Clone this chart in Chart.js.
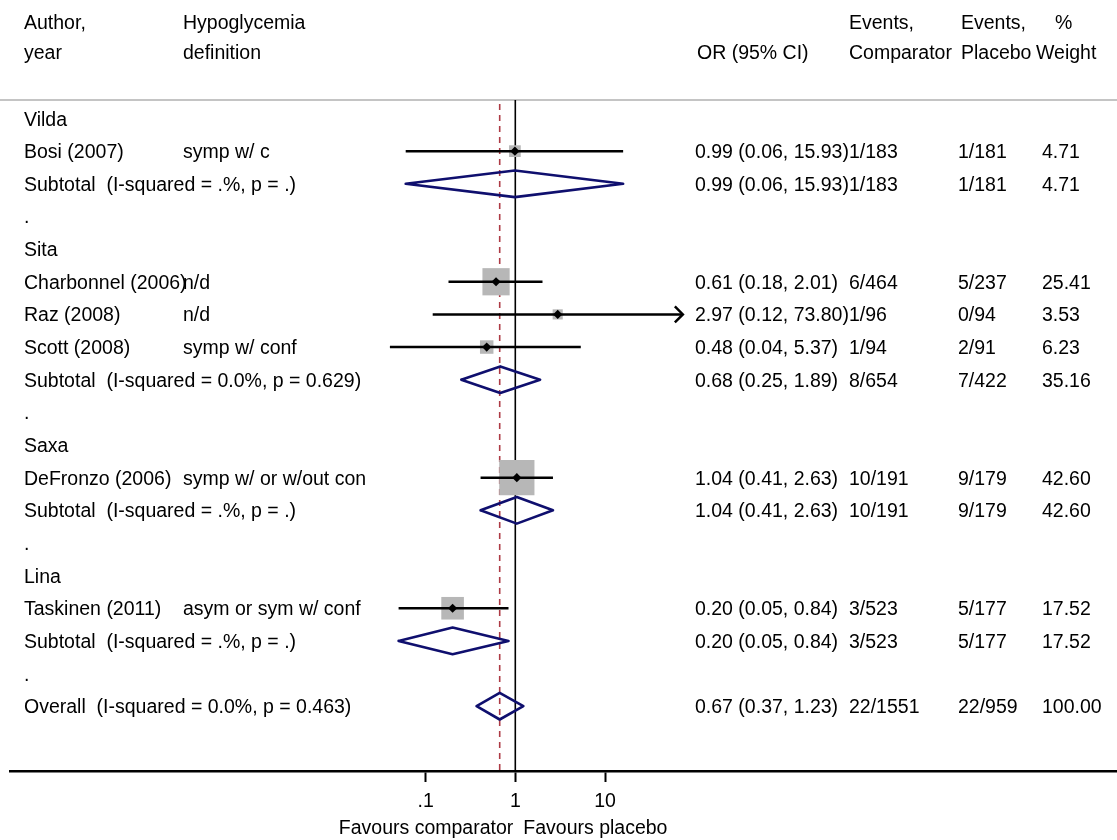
<!DOCTYPE html>
<html>
<head>
<meta charset="utf-8">
<script src="https://cdn.jsdelivr.net/npm/chart.js@4.4.1/dist/chart.umd.min.js"></script>
<style>
  body { margin: 0; background: #fff; }
  #wrap { width: 1117px; height: 840px; }
</style>
</head>
<body>
<div id="wrap"><canvas id="forest"></canvas></div>
<script>
// Table rows, top to bottom
const authorLabels = [
  'Vilda', 'Bosi (2007)', 'Subtotal  (I-squared = .%, p = .)', '.',
  'Sita', 'Charbonnel (2006)', 'Raz (2008)', 'Scott (2008)', 'Subtotal  (I-squared = 0.0%, p = 0.629)', '.',
  'Saxa', 'DeFronzo (2006)', 'Subtotal  (I-squared = .%, p = .)', '.',
  'Lina', 'Taskinen (2011)', 'Subtotal  (I-squared = .%, p = .)', '.',
  'Overall  (I-squared = 0.0%, p = 0.463)',
]
const definitionLabels = [
  '', 'symp w/ c', '', '',
  '', 'n/d', 'n/d', 'symp w/ conf', '', '',
  '', 'symp w/ or w/out con', '', '',
  '', 'asym or sym w/ conf', '', '',
  '',
]
const comparatorEvents = [
  '', '1/183', '1/183', '',
  '', '6/464', '1/96', '1/94', '8/654', '',
  '', '10/191', '10/191', '',
  '', '3/523', '3/523', '',
  '22/1551',
]
const placeboEvents = [
  '', '1/181', '1/181', '',
  '', '5/237', '0/94', '2/91', '7/422', '',
  '', '9/179', '9/179', '',
  '', '5/177', '5/177', '',
  '22/959',
]
const weightLabels = [
  '', '4.71', '4.71', '',
  '', '25.41', '3.53', '6.23', '35.16', '',
  '', '42.60', '42.60', '',
  '', '17.52', '17.52', '',
  '100.00',
]

// Individual studies
const studyRows = [1, 5, 6, 7, 11, 15]
const studyOR = [0.99, 0.61, 2.97, 0.48, 1.04, 0.20]
const studyLo = [0.06, 0.18, 0.12, 0.04, 0.41, 0.05]
const studyHi = [15.93, 2.01, 73.80, 5.37, 2.63, 0.84]
const studyWeight = [4.71, 25.41, 3.53, 6.23, 42.60, 17.52]
const studyArrow = [false, false, true, false, false, false]

// Pooled estimates (subtotals + overall)
const pooledRows = [2, 8, 12, 16, 18]
const pooledOR = [0.99, 0.68, 1.04, 0.20, 0.67]
const pooledLo = [0.06, 0.25, 0.41, 0.05, 0.37]
const pooledHi = [15.93, 1.89, 2.63, 0.84, 1.23]
const overallOR = 0.67

const tickValues = [0.1, 1, 10]
const tickLabels = ['.1', '1', '10']

// Layout
const FONT = '19.5px "Liberation Sans", Arial, Helvetica, sans-serif'
const ROW0 = 118.5      // pixel of first row
const ROWH = 32.65      // pixel per row
const AXIS_Y = 771
const ONE_PX = 515.3    // pixel of OR = 1
const DECADE = 89.7     // pixels per decade
const LEFT = 10
const W = 1117
const DIAMOND_H = 13.3 / ROWH

const fmt = (v) => v.toFixed(2)
const orLabels = authorLabels.map(() => '')
studyRows.forEach((r, i) => { orLabels[r] = `${fmt(studyOR[i])} (${fmt(studyLo[i])}, ${fmt(studyHi[i])})` })
pooledRows.forEach((r, i) => { orLabels[r] = `${fmt(pooledOR[i])} (${fmt(pooledLo[i])}, ${fmt(pooledHi[i])})` })

/*--------------------------------------------
  Datasets
---------------------------------------------*/
const datasets = []

// Weight squares (behind everything)
datasets.push({
  data: studyOR.map((v, i) => ({ x: v, y: studyRows[i] })),
  pointStyle: 'rect',
  pointRadius: studyWeight.map((w) => (5.4 * Math.sqrt(w)) / Math.SQRT2),
  pointBackgroundColor: '#b7b7b7',
  pointBorderWidth: 0,
  order: 5,
})

// Confidence intervals
studyRows.forEach((r, i) => {
  datasets.push({
    data: [{ x: studyLo[i], y: r }, { x: studyHi[i], y: r }],
    showLine: true,
    borderColor: '#000',
    borderWidth: 2.5,
    pointRadius: 0,
    order: 3,
  })
})

// Point estimates
datasets.push({
  data: studyOR.map((v, i) => ({ x: v, y: studyRows[i] })),
  pointStyle: 'rectRot',
  pointRadius: 4.6,
  pointBackgroundColor: '#000',
  pointBorderWidth: 0,
  order: 1,
})

// Pooled diamonds
pooledRows.forEach((r, i) => {
  datasets.push({
    data: [
      { x: pooledLo[i], y: r },
      { x: pooledOR[i], y: r - DIAMOND_H },
      { x: pooledHi[i], y: r },
      { x: pooledOR[i], y: r + DIAMOND_H },
      { x: pooledLo[i], y: r },
    ],
    showLine: true,
    borderColor: '#0f0f6e',
    borderWidth: 2.6,
    borderJoinStyle: 'round',
    borderCapStyle: 'round',
    pointRadius: 0,
    order: 2,
  })
})

/*--------------------------------------------
  Plugins
---------------------------------------------*/
const refLines = {
  id: 'refLines',
  beforeDatasetsDraw(chart) {
    const { ctx } = chart
    const x = chart.scales.x
    ctx.save()
    // header separator
    ctx.strokeStyle = '#c4c4c4'
    ctx.lineWidth = 2
    ctx.beginPath()
    ctx.moveTo(0, 100)
    ctx.lineTo(W, 100)
    ctx.stroke()
    // no effect line
    ctx.strokeStyle = '#000'
    ctx.lineWidth = 1.6
    ctx.beginPath()
    ctx.moveTo(x.getPixelForValue(1), 100)
    ctx.lineTo(x.getPixelForValue(1), AXIS_Y)
    ctx.stroke()
    // overall estimate line
    ctx.strokeStyle = '#ad3b45'
    ctx.lineWidth = 1.6
    ctx.setLineDash([6, 5])
    ctx.beginPath()
    ctx.moveTo(x.getPixelForValue(overallOR), 104)
    ctx.lineTo(x.getPixelForValue(overallOR), AXIS_Y)
    ctx.stroke()
    ctx.restore()
  },
  afterDatasetsDraw(chart) {
    const { ctx } = chart
    const x = chart.scales.x
    const y = chart.scales.y
    ctx.save()
    ctx.strokeStyle = '#000'
    ctx.lineWidth = 2.5
    studyRows.forEach((r, i) => {
      if (!studyArrow[i]) return
      const px = x.getPixelForValue(studyHi[i])
      const py = y.getPixelForValue(r)
      ctx.beginPath()
      ctx.moveTo(px - 8, py - 8)
      ctx.lineTo(px, py)
      ctx.lineTo(px - 8, py + 8)
      ctx.stroke()
    })
    ctx.restore()
  },
}

const tableText = {
  id: 'tableText',
  afterDraw(chart) {
    const { ctx } = chart
    const x = chart.scales.x
    const y = chart.scales.y
    ctx.save()
    ctx.font = FONT
    ctx.fillStyle = '#000'
    ctx.textBaseline = 'alphabetic'
    ctx.textAlign = 'left'

    // headers
    ctx.fillText('Author,', 24, 29)
    ctx.fillText('year', 24, 59)
    ctx.fillText('Hypoglycemia', 183, 29)
    ctx.fillText('definition', 183, 59)
    ctx.fillText('OR (95% CI)', 697, 59)
    ctx.fillText('Events,', 849, 29)
    ctx.fillText('Comparator', 849, 59)
    ctx.fillText('Events,', 961, 29)
    ctx.fillText('Placebo', 961, 59)
    ctx.fillText('%', 1055, 29)
    ctx.fillText('Weight', 1036, 59)

    // rows
    authorLabels.forEach((t, i) => {
      const py = y.getPixelForValue(i) + 7
      ctx.fillText(t, 24, py)
      ctx.fillText(definitionLabels[i], 183, py)
      ctx.fillText(orLabels[i], 695, py)
      ctx.fillText(comparatorEvents[i], 849, py)
      ctx.fillText(placeboEvents[i], 958, py)
      ctx.fillText(weightLabels[i], 1042, py)
    })

    // axis caption
    const one = x.getPixelForValue(1)
    ctx.textAlign = 'right'
    ctx.fillText('Favours comparator', one - 2, 834)
    ctx.textAlign = 'left'
    ctx.fillText('Favours placebo', one + 8, 834)
    ctx.restore()
  },
}

/*--------------------------------------------
  Chart
---------------------------------------------*/
Chart.defaults.font.family = '"Liberation Sans", Arial, Helvetica, sans-serif'
Chart.defaults.font.size = 19.5
Chart.defaults.color = '#000'

new Chart(document.getElementById('forest'), {
  type: 'scatter',
  data: { datasets },
  plugins: [refLines, tableText],
  options: {
    responsive: true,
    maintainAspectRatio: false,
    animation: false,
    events: [],
    layout: { autoPadding: false, padding: { left: LEFT, right: 0, top: 0, bottom: 0 } },
    plugins: { legend: { display: false }, tooltip: { enabled: false } },
    scales: {
      x: {
        type: 'logarithmic',
        min: Math.pow(10, (LEFT - ONE_PX) / DECADE),
        max: Math.pow(10, (W - ONE_PX) / DECADE),
        afterBuildTicks(scale) {
          scale.ticks = tickValues.map((v) => ({ value: v }))
        },
        afterFit(scale) {
          scale.height = 840 - AXIS_Y
        },
        grid: { drawOnChartArea: false, drawTicks: true, tickLength: 11, tickColor: '#000', tickWidth: 2 },
        border: { display: true, color: '#000', width: 2.5 },
        ticks: {
          autoSkip: false,
          maxRotation: 0,
          padding: 8,
          color: '#000',
          callback(value) {
            const k = tickValues.indexOf(value)
            return k < 0 ? '' : tickLabels[k]
          },
        },
      },
      y: {
        type: 'linear',
        display: false,
        reverse: true,
        min: -ROW0 / ROWH,
        max: (AXIS_Y - ROW0) / ROWH,
      },
    },
  },
})
</script>
</body>
</html>
